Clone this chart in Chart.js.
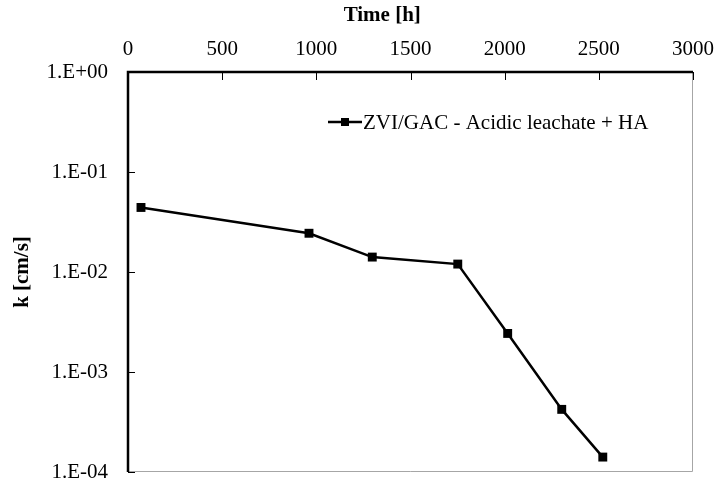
<!DOCTYPE html>
<html>
<head>
<meta charset="utf-8">
<script src="https://cdn.jsdelivr.net/npm/chart.js@4/dist/chart.umd.min.js"></script>
<style>
html,body{margin:0;padding:0;background:#fff;}
#wrap{width:717px;height:484px;position:relative;}
</style>
</head>
<body>
<div id="wrap"><canvas id="c" width="717" height="484"></canvas></div>
<script>
// ---- data ----
const timeHours = [69, 961, 1297, 1751, 2016, 2303, 2521];
const kValues = [0.0442, 0.0244, 0.0141, 0.0120, 0.00243, 0.000423, 0.000141];
const seriesName = 'ZVI/GAC - Acidic leachate + HA';
const xTickValues = [0, 500, 1000, 1500, 2000, 2500, 3000];
const xTickLabels = ['0', '500', '1000', '1500', '2000', '2500', '3000'];
const yTickValues = [1, 0.1, 0.01, 0.001, 0.0001];
const yTickLabels = ['1.E+00', '1.E-01', '1.E-02', '1.E-03', '1.E-04'];
const xTitle = 'Time [h]';
const yTitle = 'k [cm/s]';

const FONT = "'Liberation Serif', 'Times New Roman', serif";
const FS = 21;

const framePlugin = {
  id: 'frame',
  afterDatasetsDraw(chart) {
    const ctx = chart.ctx;
    const a = chart.chartArea;
    const xs = chart.scales.x, ys = chart.scales.y;
    ctx.save();
    ctx.strokeStyle = '#a6a6a6';
    ctx.lineWidth = 1;
    ctx.beginPath();
    ctx.moveTo(a.right - 0.5, a.top);
    ctx.lineTo(a.right - 0.5, a.bottom - 0.5);
    ctx.lineTo(a.left, a.bottom - 0.5);
    ctx.stroke();
    ctx.strokeStyle = '#000';
    ctx.lineWidth = 1;
    ctx.beginPath();
    xTickValues.forEach(v => {
      const px = Math.round(xs.getPixelForValue(v)) + 0.5;
      ctx.moveTo(px, a.top);
      ctx.lineTo(px, a.top + 8);
    });
    yTickValues.forEach(v => {
      const py = Math.round(ys.getPixelForValue(v)) + 0.5;
      ctx.moveTo(a.left, py);
      ctx.lineTo(a.left + 7, py);
    });
    ctx.stroke();
    ctx.lineWidth = 2.5;
    ctx.beginPath();
    ctx.moveTo(a.left, a.bottom);
    ctx.lineTo(a.left, a.top);
    ctx.lineTo(a.right, a.top);
    ctx.stroke();
    ctx.restore();
  },
  afterDraw(chart) {
    const ctx = chart.ctx;
    const a = chart.chartArea;
    const xs = chart.scales.x;
    ctx.save();
    ctx.fillStyle = '#000';
    ctx.font = 'bold ' + FS + 'px ' + FONT;
    ctx.textAlign = 'center';
    ctx.textBaseline = 'middle';
    ctx.fillText(xTitle, xs.getPixelForValue(1350), 16);
    const ly = a.top + 50;
    const lx = a.left + 200;
    ctx.strokeStyle = '#000';
    ctx.lineWidth = 2.5;
    ctx.beginPath();
    ctx.moveTo(lx, ly);
    ctx.lineTo(lx + 34, ly);
    ctx.stroke();
    ctx.fillStyle = '#000';
    ctx.fillRect(lx + 13, ly - 4, 8, 8);
    ctx.font = FS + 'px ' + FONT;
    ctx.textAlign = 'left';
    ctx.textBaseline = 'middle';
    ctx.fillText(seriesName, lx + 35, ly + 1);
    ctx.restore();
  }
};

new Chart(document.getElementById('c'), {
  type: 'line',
  data: {
    datasets: [{
      label: seriesName,
      data: timeHours.map((t, i) => ({x: t, y: kValues[i]})),
      borderColor: '#000',
      backgroundColor: '#000',
      borderWidth: 2.5,
      pointStyle: 'rect',
      pointRadius: 6.3,
      pointHoverRadius: 6.3,
      pointBackgroundColor: '#000',
      pointBorderColor: '#000',
      pointBorderWidth: 0,
      tension: 0,
      fill: false,
      clip: false
    }]
  },
  options: {
    responsive: false,
    animation: false,
    layout: {padding: {left: 0, right: 24, top: 0, bottom: 12}},
    plugins: {
      legend: {display: false},
      tooltip: {enabled: false},
      title: {display: false}
    },
    scales: {
      x: {
        type: 'linear',
        position: 'top',
        min: 0,
        max: 3000,
        afterBuildTicks(scale) { scale.ticks = xTickValues.map(v => ({value: v})); },
        afterFit(scale) {
          scale.height = 72;
          scale.paddingLeft = 0; scale.paddingRight = 0;
          scale.paddingTop = 0; scale.paddingBottom = 0;
        },
        grid: {display: false, drawTicks: false},
        border: {display: false},
        ticks: {
          color: '#000',
          font: {family: FONT, size: FS},
          padding: 10,
          maxRotation: 0,
          autoSkip: false,
          callback(value) {
            const i = xTickValues.indexOf(value);
            return i >= 0 ? xTickLabels[i] : '';
          }
        },
        title: {display: false}
      },
      y: {
        type: 'logarithmic',
        position: 'left',
        min: 0.0001,
        max: 1,
        afterBuildTicks(scale) { scale.ticks = yTickValues.map(v => ({value: v})); },
        afterFit(scale) {
          scale.width = 128;
          scale.paddingLeft = 0; scale.paddingRight = 0;
          scale.paddingTop = 0; scale.paddingBottom = 0;
        },
        grid: {display: false, drawTicks: false},
        border: {display: false},
        ticks: {
          color: '#000',
          font: {family: FONT, size: FS},
          padding: 20,
          autoSkip: false,
          callback(value) {
            const i = yTickValues.findIndex(v => Math.abs(Math.log10(v) - Math.log10(value)) < 1e-6);
            return i >= 0 ? yTickLabels[i] : '';
          }
        },
        title: {
          display: true,
          text: yTitle,
          color: '#000',
          font: {family: FONT, size: FS, weight: 'bold'},
          padding: {top: 10, bottom: 0}
        }
      }
    }
  },
  plugins: [framePlugin]
});
</script>
</body>
</html>
